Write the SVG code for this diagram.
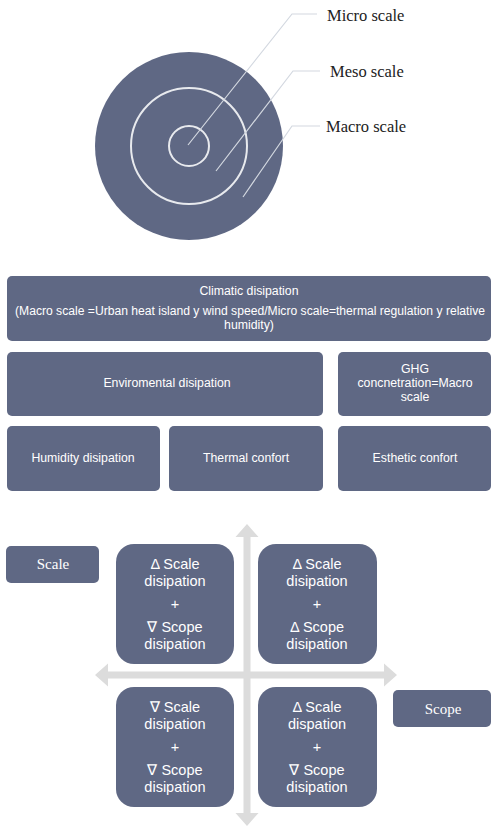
<svg xmlns="http://www.w3.org/2000/svg" width="491" height="828" viewBox="0 0 491 828">
<style>
.box{fill:#5f6884;}
.t{font-family:"Liberation Sans",Arial,sans-serif;fill:#ffffff;text-anchor:middle;dominant-baseline:central;}
.t1{font-size:12.3px;}
.t2{font-size:14.5px;}
.serif{font-family:"Liberation Serif","Times New Roman",serif;}
.lbl{font-size:16.5px;fill:#222222;dominant-baseline:central;}
.ring{fill:none;stroke:#e8eaee;stroke-width:2;}
.lead{fill:none;stroke:#d3d8e0;stroke-width:1.2;}
.arr{fill:#dcdcdc;}
</style>
<g id="target">
<circle cx="189" cy="146" r="94" class="box"/>
<circle cx="189" cy="146" r="58" class="ring"/>
<circle cx="189" cy="146" r="20" class="ring"/>
</g>
<g id="connectors">
<polyline class="lead" points="188,145 292,14 317,14"/>
<polyline class="lead" points="216,171 293,71 320,71"/>
<polyline class="lead" points="243,197 292,126 320,126"/>
<path class="arr" d="M247,524 L258.5,537 L250.5,537 L250.5,813 L258.5,813 L247,826 L235.5,813 L243.5,813 L243.5,537 L235.5,537 Z"/>
<path class="arr" d="M95,675 L108,663.5 L108,671.5 L384,671.5 L384,663.5 L397,675 L384,686.5 L384,678.5 L108,678.5 L108,686.5 Z"/>
</g>
<g id="label-micro"><text class="serif lbl" x="327" y="15">Micro scale</text></g>
<g id="label-meso"><text class="serif lbl" x="330" y="71">Meso scale</text></g>
<g id="label-macro"><text class="serif lbl" x="326" y="126">Macro scale</text></g>

<g id="climatic">
<rect class="box" x="7" y="276" width="484" height="65" rx="5"/>
<text class="t t1" x="249" y="291">Climatic disipation</text>
<text class="t t1" x="250" y="311" textLength="470" lengthAdjust="spacingAndGlyphs">(Macro scale =Urban heat island y wind speed/Micro scale=thermal regulation y relative</text>
<text class="t t1" x="249" y="325">humidity)</text>
</g>
<g id="enviromental">
<rect class="box" x="7" y="352" width="316" height="64" rx="5"/>
<text class="t t1" x="167" y="383">Enviromental disipation</text>
</g>
<g id="ghg">
<rect class="box" x="338" y="352" width="153" height="64" rx="5"/>
<text class="t t1" x="415" y="369">GHG</text>
<text class="t t1" x="415" y="383">concnetration=Macro</text>
<text class="t t1" x="415" y="397">scale</text>
</g>
<g id="humidity">
<rect class="box" x="7" y="426" width="153" height="65" rx="5"/>
<text class="t t1" x="83" y="458">Humidity disipation</text>
</g>
<g id="thermal">
<rect class="box" x="169" y="426" width="154" height="65" rx="5"/>
<text class="t t1" x="246" y="458">Thermal confort</text>
</g>
<g id="esthetic">
<rect class="box" x="338" y="426" width="153" height="65" rx="5"/>
<text class="t t1" x="415" y="458">Esthetic confort</text>
</g>

<g id="scale">
<rect class="box" x="6" y="546" width="93" height="37" rx="5"/>
<text class="t serif" style="font-size:15px" x="53" y="564">Scale</text>
</g>
<g id="scope">
<rect class="box" x="393" y="690" width="98" height="37" rx="5"/>
<text class="t serif" style="font-size:15px" x="443" y="709">Scope</text>
</g>

<g id="q-tl">
<rect class="box" x="116" y="544" width="118" height="120" rx="18"/>
<text class="t t2" x="175" y="564">Δ Scale</text>
<text class="t t2" x="175" y="581">disipation</text>
<text class="t t2" x="175" y="604">+</text>
<text class="t t2" x="175" y="627">∇ Scope</text>
<text class="t t2" x="175" y="644">disipation</text>
</g>
<g id="q-tr">
<rect class="box" x="258" y="544" width="119" height="120" rx="18"/>
<text class="t t2" x="317" y="564">Δ Scale</text>
<text class="t t2" x="317" y="581">disipation</text>
<text class="t t2" x="317" y="604">+</text>
<text class="t t2" x="317" y="627">Δ Scope</text>
<text class="t t2" x="317" y="644">disipation</text>
</g>
<g id="q-bl">
<rect class="box" x="116" y="687" width="118" height="120" rx="18"/>
<text class="t t2" x="175" y="707">∇ Scale</text>
<text class="t t2" x="175" y="724">disipation</text>
<text class="t t2" x="175" y="747">+</text>
<text class="t t2" x="175" y="770">∇ Scope</text>
<text class="t t2" x="175" y="787">disipation</text>
</g>
<g id="q-br">
<rect class="box" x="258" y="687" width="119" height="120" rx="18"/>
<text class="t t2" x="317" y="707">Δ Scale</text>
<text class="t t2" x="317" y="724">dispation</text>
<text class="t t2" x="317" y="747">+</text>
<text class="t t2" x="317" y="770">∇ Scope</text>
<text class="t t2" x="317" y="787">disipation</text>
</g>
</svg>
